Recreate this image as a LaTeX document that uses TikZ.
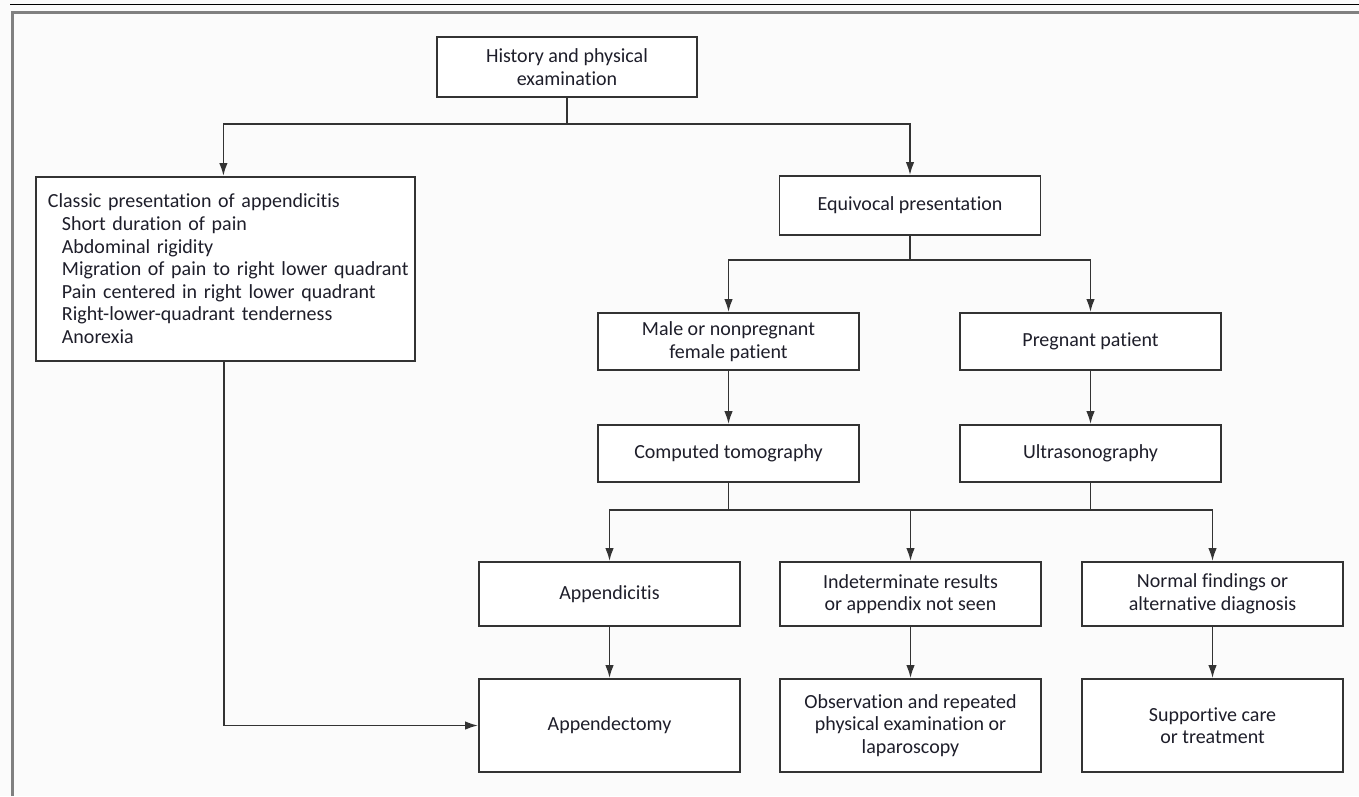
\documentclass[tikz,border=0pt]{standalone}
\usepackage{fontspec}
\setmainfont{Carlito}[Ligatures={NoCommon}]
\usetikzlibrary{arrows.meta}
\definecolor{bg}{HTML}{FBFBFB}
\definecolor{framegray}{HTML}{808080}
\definecolor{ink}{HTML}{333333}
\definecolor{txt}{HTML}{1E1E2A}
\newcommand{\itemline}[1]{\mbox{\hspace*{14pt}#1}}
\begin{document}
\begin{tikzpicture}[x=1pt,y=-1pt,
  box/.style={draw=ink, line width=1.8pt, fill=white, text=txt, align=center,
    minimum width=261pt, inner sep=0pt, font=\fontsize{20}{22.6}\selectfont},
  link/.style={draw=ink, line width=1.8pt},
  arr/.style={link, -{Latex[length=13pt,width=8.5pt]}}]

% page and frame
\fill[bg] (0,0) rectangle (1359,796);
\useasboundingbox (0,0) rectangle (1359,796);
\draw[black, line width=1.5pt] (10,4.7) -- (1359,4.7);
\draw[framegray, line width=3pt] (12,796) -- (12,12.5) -- (1359,12.5);

% boxes
\node[box, minimum width=260pt, minimum height=60pt] (hist) at (567,67)
  {History and physical\\examination};
\node[box, anchor=north west, minimum width=379pt, minimum height=184pt,
  inner xsep=12pt, text width=355pt, align=left] (classic) at (35,176)
  {\mbox{Classic presentation of appendicitis}\\
   \itemline{Short duration of pain}\\
   \itemline{Abdominal rigidity}\\
   \itemline{Migration of pain to right lower quadrant}\\
   \itemline{Pain centered in right lower quadrant}\\
   \itemline{Right-lower-quadrant tenderness}\\
   \itemline{Anorexia}};
\node[box, minimum height=59pt] (equiv) at (910,205.5) {Equivocal presentation};
\node[box, minimum height=57pt] (male) at (728.5,341.5) {Male or nonpregnant\\female patient};
\node[box, minimum height=57pt] (preg) at (1090.5,341.5) {Pregnant patient};
\node[box, minimum height=57pt] (ct) at (728.5,453.5) {Computed tomography};
\node[box, minimum height=57pt] (us) at (1090.5,453.5) {Ultrasonography};
\node[box, minimum height=64pt] (appc) at (609.5,594) {Appendicitis};
\node[box, minimum height=64pt] (indet) at (910.5,594) {Indeterminate results\\or appendix not seen};
\node[box, minimum height=64pt] (normal) at (1212.5,594) {Normal findings or\\alternative diagnosis};
\node[box, minimum height=93pt] (appy) at (609.5,725.5) {Appendectomy};
\node[box, minimum height=93pt] (obs) at (910.5,725.5) {Observation and repeated\\physical examination or\\laparoscopy};
\node[box, minimum height=93pt] (supp) at (1212.5,725.5) {Supportive care\\or treatment};

% connectors
\draw[link] (hist.south) -- ++(0,26) coordinate (j1);
\draw[arr] (j1) -| ([xshift=-2pt]classic.north);
\draw[arr] (j1) -| (equiv.north);
\draw[link] (equiv.south) -- ++(0,24) coordinate (j2);
\draw[arr] (j2) -| (male.north);
\draw[arr] (j2) -| (preg.north);
\draw[arr] (male) -- (ct);
\draw[arr] (preg) -- (us);
\draw[link] (ct.south) -- ++(0,27) coordinate (j3);
\draw[link] (us.south) -- ++(0,27) coordinate (j4);
\draw[link] (j3) -- (j4);
\draw[arr] (j3) -| (appc.north);
\draw[arr] (j4) -| (normal.north);
\draw[arr] (indet.north |- j3) -- (indet.north);
\draw[arr] (appc) -- (appy);
\draw[arr] (indet) -- (obs);
\draw[arr] (normal) -- (supp);
\draw[arr] ([xshift=-1.5pt]classic.south) |- (appy.west);
\end{tikzpicture}
\end{document}
